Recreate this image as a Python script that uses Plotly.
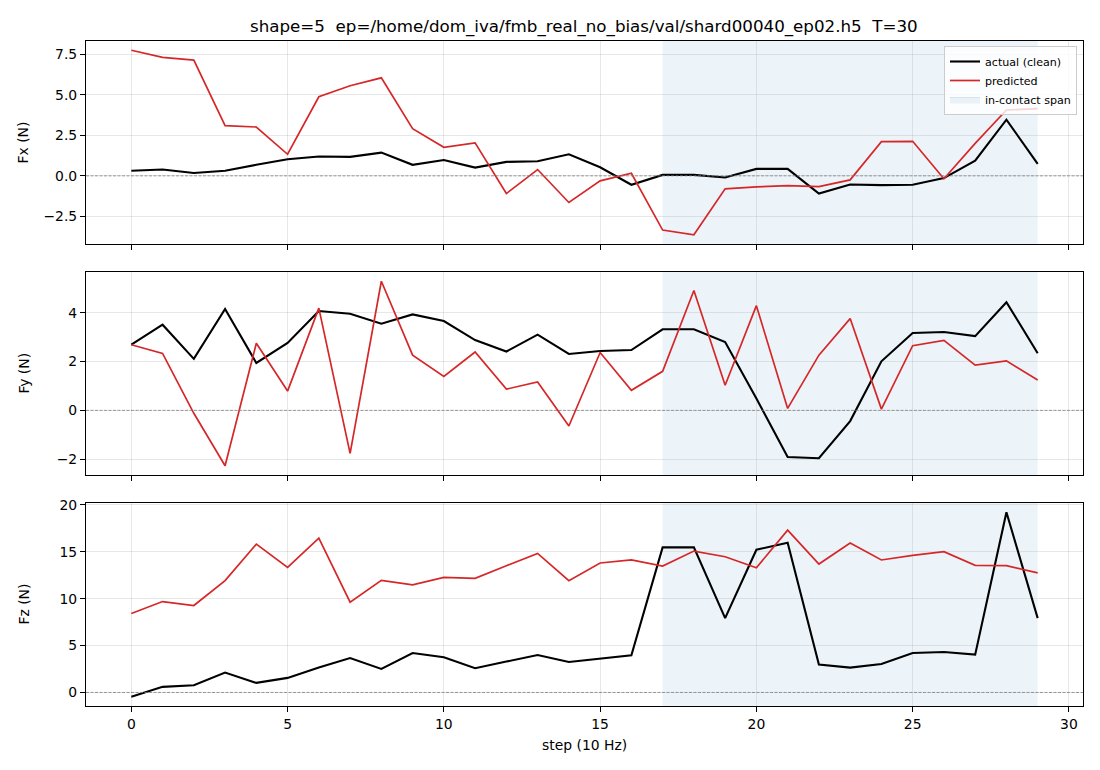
import plotly.graph_objects as go

steps = list(range(30))

fx_actual = [0.31, 0.39, 0.18, 0.31, 0.68, 1.02, 1.19, 1.17, 1.43, 0.68,
             0.98, 0.51, 0.86, 0.90, 1.33, 0.53, -0.55, 0.06, 0.06, -0.10,
             0.43, 0.43, -1.09, -0.53, -0.57, -0.55, -0.14, 0.94, 3.46, 0.74]
fx_pred = [7.74, 7.30, 7.13, 3.09, 3.01, 1.33, 4.87, 5.55, 6.04, 2.91,
           1.76, 2.03, -1.09, 0.39, -1.64, -0.31, 0.16, -3.34, -3.63, -0.80,
           -0.68, -0.60, -0.66, -0.25, 2.11, 2.13, -0.18, 2.00, 4.06, 4.14]

fy_actual = [2.69, 3.51, 2.11, 4.15, 1.94, 2.76, 4.07, 3.96, 3.55, 3.93,
             3.66, 2.88, 2.41, 3.10, 2.31, 2.43, 2.47, 3.32, 3.32, 2.80,
             0.49, -1.91, -1.96, -0.44, 2.01, 3.17, 3.21, 3.04, 4.43, 2.34]
fy_pred = [2.69, 2.33, -0.12, -2.27, 2.75, 0.79, 4.19, -1.76, 5.29, 2.26,
           1.39, 2.39, 0.87, 1.16, -0.64, 2.37, 0.82, 1.60, 4.91, 1.03,
           4.29, 0.08, 2.26, 3.76, 0.05, 2.65, 2.87, 1.85, 2.03, 1.24]

fz_actual = [-0.46, 0.60, 0.77, 2.12, 1.02, 1.55, 2.65, 3.67, 2.51, 4.20,
             3.75, 2.58, 3.29, 3.99, 3.25, 3.61, 3.96, 15.46, 15.46, 7.92,
             15.21, 15.96, 2.97, 2.65, 3.04, 4.20, 4.31, 4.03, 19.21, 7.92]
fz_pred = [8.42, 9.69, 9.27, 11.92, 15.81, 13.33, 16.45, 9.62, 11.95, 11.46,
           12.27, 12.17, 13.51, 14.82, 11.92, 13.80, 14.12, 13.48, 15.07, 14.47,
           13.30, 17.30, 13.69, 15.92, 14.12, 14.61, 15.00, 13.55, 13.51, 12.74]

contact_start = 17
contact_end = 29

panels = [("Fx (N)", fx_actual, fx_pred, [-2.5, 0, 2.5, 5, 7.5], ".1f"),
          ("Fy (N)", fy_actual, fy_pred, [-2, 0, 2, 4], "d"),
          ("Fz (N)", fz_actual, fz_pred, [0, 5, 10, 15, 20], "d")]

W, H = 1100, 770
x_dom = [86 / W, 1083 / W]
y_px = [(41, 244), (272, 475), (503, 706)]

FONT = "DejaVu Sans"
RED = "#d62728"

fig = go.Figure()
layout = dict(
    width=W, height=H,
    margin=dict(l=0, r=0, t=0, b=0, autoexpand=False),
    paper_bgcolor="white", plot_bgcolor="white",
    font=dict(family=FONT, size=13.9, color="black"),
    showlegend=True,
    legend=dict(x=1077 / W, y=1 - 46 / H, xanchor="right", yanchor="top",
                bgcolor="rgba(255,255,255,0.8)", bordercolor="#cccccc",
                borderwidth=1, font=dict(size=11.1, family=FONT),
                itemwidth=30, tracegroupgap=0),
)
shapes = []
annotations = []

xmin, xmax = min(steps), max(steps)
xpad = 0.05 * (xmax - xmin)

for i, (label, act, pred, ticks, fmt) in enumerate(panels):
    n = i + 1
    xa = "x" if n == 1 else f"x{n}"
    ya = "y" if n == 1 else f"y{n}"
    top, bot = y_px[i]
    lo = min(act + pred)
    hi = max(act + pred)
    pad = 0.05 * (hi - lo)

    fig.add_trace(go.Scatter(x=steps, y=act, mode="lines", name="actual (clean)",
                             line=dict(color="black", width=2.1),
                             xaxis=xa, yaxis=ya, showlegend=(n == 1),
                             legendrank=1))
    fig.add_trace(go.Scatter(x=steps, y=pred, mode="lines", name="predicted",
                             line=dict(color=RED, width=1.7),
                             xaxis=xa, yaxis=ya, showlegend=(n == 1),
                             legendrank=2))

    axis_common = dict(showline=True, linecolor="black", linewidth=1.1, mirror=True,
                       ticks="outside", ticklen=5, tickwidth=1.1, tickcolor="black",
                       showgrid=True, gridcolor="rgba(176,176,176,0.3)", gridwidth=1,
                       zeroline=False, automargin=False,
                       tickfont=dict(family=FONT, size=13.9, color="black"))
    layout["xaxis" if n == 1 else f"xaxis{n}"] = dict(
        domain=x_dom, anchor=ya, range=[xmin - xpad, xmax + xpad],
        tickvals=[0, 5, 10, 15, 20, 25, 30], showticklabels=(n == 3),
        **axis_common)
    layout["yaxis" if n == 1 else f"yaxis{n}"] = dict(
        domain=[1 - bot / H, 1 - top / H], anchor=xa, range=[lo - pad, hi + pad],
        tickvals=ticks, tickformat=fmt, **axis_common)

    shapes.append(dict(type="rect", xref=xa, yref=f"{ya} domain",
                       x0=contact_start, x1=contact_end, y0=0, y1=1,
                       fillcolor="rgba(31,119,180,0.08)", line=dict(width=0),
                       layer="below"))
    shapes.append(dict(type="line", xref=f"{xa} domain", yref=ya,
                       x0=0, x1=1, y0=0, y1=0,
                       line=dict(color="gray", width=0.8, dash="3px,1.5px"),
                       layer="above"))
    annotations.append(dict(text=label, xref="paper", yref="paper",
                            x=23 / W, y=1 - (top + bot) / 2 / H,
                            textangle=-90, showarrow=False,
                            xanchor="center", yanchor="middle",
                            font=dict(family=FONT, size=13.9, color="black")))

# legend entry for the shaded span
fig.add_trace(go.Scatter(x=[None], y=[None], mode="lines", fill="toself",
                         name="in-contact span",
                         fillcolor="rgba(31,119,180,0.08)",
                         line=dict(color="rgba(31,119,180,0.15)", width=1),
                         xaxis="x", yaxis="y", legendrank=3))

annotations.append(dict(text="step (10 Hz)", xref="paper", yref="paper",
                        x=584 / W, y=1 - 745 / H, showarrow=False,
                        xanchor="center", yanchor="middle",
                        font=dict(family=FONT, size=13.9, color="black")))
annotations.append(dict(text="shape=5  ep=/home/dom_iva/fmb_real_no_bias/val/shard00040_ep02.h5  T=30",
                        xref="paper", yref="paper",
                        x=584 / W, y=1 - 26 / H, showarrow=False,
                        xanchor="center", yanchor="middle",
                        font=dict(family=FONT, size=16.7, color="black")))

layout["shapes"] = shapes
layout["annotations"] = annotations
fig.update_layout(**layout)

fig.write_html("out.html")
